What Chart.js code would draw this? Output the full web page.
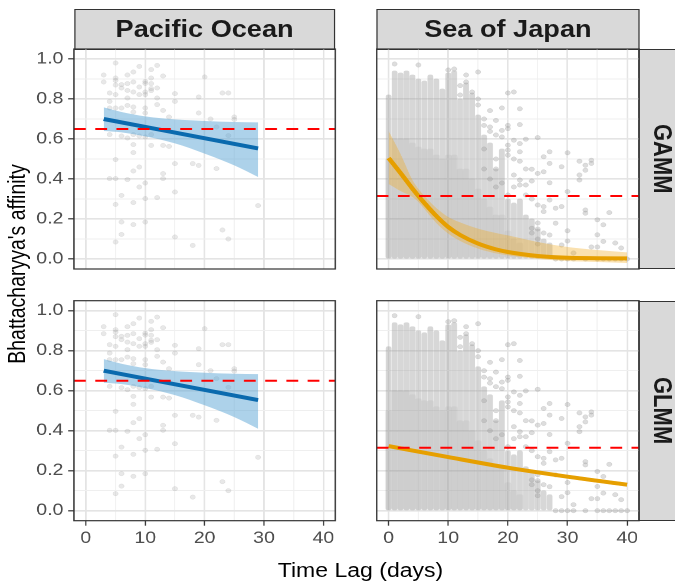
<!DOCTYPE html>
<html>
<head>
<meta charset="utf-8">
<script src="https://cdn.jsdelivr.net/npm/chart.js@4.4.1/dist/chart.umd.min.js"></script>
<style>
  html, body { margin: 0; padding: 0; background: #fff; }
  body { width: 675px; height: 584px; overflow: hidden; position: relative; }
  /* the reference is stretched sideways, so the whole figure is drawn narrow and scaled */
  #wrap { position: absolute; left: 0; top: 0; width: 572px; height: 584px;
          transform: scaleX(1.18); transform-origin: 0 0;
          font-family: "Liberation Sans", Arial, Helvetica, sans-serif; }
  canvas { position: absolute; }
  .strip { position: absolute; box-sizing: border-box; background: #d9d9d9; border: 1px solid #333;
           color: #1a1a1a; font-weight: bold; font-size: 23px;
           display: flex; align-items: center; justify-content: center; }
  .strip.side { writing-mode: vertical-rl; font-size: 22px; }
  .title { position: absolute; color: #000; font-size: 19.5px; white-space: nowrap;
           transform: translate(-50%, -50%); }
</style>
</head>
<body>
<div id="wrap">
  <div class="strip" style="left:62.7px; top:9px; width:221.4px; height:41px;">Pacific Ocean</div>
  <div class="strip" style="left:319.2px; top:9px; width:222.4px; height:41px;">Sea of Japan</div>
  <div class="strip side" style="left:541.1px; top:49px; width:41px; height:220px;">GAMM</div>
  <div class="strip side" style="left:541.1px; top:300.7px; width:41px; height:220px;">GLMM</div>
  <div class="title" style="left:15.3px; top:264px; transform: translate(-50%, -50%) rotate(-90deg);">Bhattacharyya's affinity</div>
  <div class="title" style="left:305.5px; top:570px;">Time Lag (days)</div>
</div>
<script>
const FONT_FAMILY = '"Liberation Sans", Arial, Helvetica, sans-serif';

// 1. Données
// Pacific Ocean : points bruts (mêmes points dans les deux lignes)
const pacDays = [3, 4, 5, 6, 7, 8, 9, 10, 11, 12, 13, 14, 15, 18, 19, 20, 21, 22, 23, 24, 25, 29];
const pacAffinity = [
  [0.92, 0.885],
  [0.83, 0.788, 0.755, 0.622, 0.402],
  [0.98, 0.905, 0.893, 0.87, 0.822, 0.755, 0.497, 0.402, 0.273, 0.085],
  [0.872, 0.855, 0.755, 0.615, 0.318, 0.185, 0.123],
  [0.92, 0.877, 0.843, 0.805, 0.768, 0.605, 0.397],
  [0.935, 0.885, 0.835, 0.76, 0.735, 0.622, 0.572, 0.532, 0.44, 0.282, 0.172],
  [0.963, 0.86, 0.822, 0.615, 0.46, 0.36],
  [0.888, 0.878, 0.835, 0.822, 0.755, 0.73, 0.61, 0.38, 0.302, 0.185],
  [0.947, 0.905, 0.877, 0.852, 0.842, 0.622, 0.568],
  [0.968, 0.855, 0.805, 0.772, 0.307],
  [0.915, 0.743, 0.568, 0.427, 0.402],
  [0.71, 0.563],
  [0.827, 0.788, 0.477, 0.335, 0.11],
  [0.477, 0.068],
  [0.81, 0.73, 0.468],
  [0.91],
  [0.70],
  [0.66, 0.452],
  [0.83, 0.145],
  [0.83, 0.617, 0.1],
  [0.71, 0.698],
  [0.267]
];
// Pacific Ocean : ajustement linéaire et intervalle
const pacFitDays = [3, 29];
const pacFit = [0.70, 0.553];
const pacBandDays = [3, 6, 10, 15, 20, 25, 29];
const pacBandUpper = [0.758, 0.735, 0.713, 0.698, 0.69, 0.685, 0.683];
const pacBandLower = [0.64, 0.633, 0.613, 0.578, 0.527, 0.468, 0.41];
const pacThreshold = 0.65;

// Sea of Japan : colonnes denses de points (de 0 jusqu'au sommet)
const seaColDays = [0, 1, 2, 3, 4, 5, 6, 7, 8, 9, 10, 11, 12, 13, 14, 15, 16, 17, 18, 19, 20, 21, 22, 23, 24, 25, 26, 27];
const seaColTop = [0.82, 0.94, 0.93, 0.94, 0.92, 0.90, 0.89, 0.92, 0.90, 0.85, 0.93, 0.94, 0.80, 0.88, 0.83, 0.72,
                   0.62, 0.58, 0.45, 0.55, 0.30, 0.28, 0.30, 0.22, 0.20, 0.15, 0.10, 0.08];
const seaSolidDays = [0, 1, 2, 3, 4, 5, 6, 7, 8, 9, 10, 11, 12, 13, 14, 15, 16, 17, 18, 19, 20, 21, 22];
const seaSolidTop = [0.5, 0.6, 0.6, 0.6, 0.58, 0.56, 0.55, 0.55, 0.52, 0.5, 0.52, 0.52, 0.45, 0.45, 0.4, 0.35,
                     0.3, 0.26, 0.22, 0.22, 0.14, 0.1, 0.08];
// Sea of Japan : points isolés
const seaPtDays = [1, 5, 10, 11, 12, 13, 14, 15, 16, 17, 18, 19, 20, 21, 22, 23, 24, 25, 26, 27,
                   28, 29, 30, 31, 32, 33, 34, 35, 36, 37, 38, 39, 40];
const seaPtAffinity = [
  [0.975], [0.97], [0.945], [0.95], [0.867, 0.82], [0.92, 0.885], [0.835], [0.935, 0.80, 0.77],
  [0.70, 0.668, 0.55, 0.45],
  [0.742, 0.66, 0.638, 0.40],
  [0.693, 0.62, 0.50, 0.45, 0.36],
  [0.755, 0.643, 0.61, 0.38],
  [0.83, 0.668, 0.652, 0.569, 0.544, 0.519, 0.32],
  [0.835, 0.594, 0.50, 0.42, 0.36],
  [0.751, 0.672, 0.577, 0.536, 0.489, 0.395, 0.37],
  [0.599, 0.45, 0.37, 0.32],
  [0.449, 0.39, 0.30, 0.154, 0.13],
  [0.607, 0.428, 0.27, 0.18, 0.15, 0.1, 0.075],
  [0.511, 0.436, 0.262, 0.237, 0.13],
  [0.536, 0.478, 0.381, 0.295, 0.12],
  [0.254, 0.179, 0],
  [0.461, 0.262, 0.07, 0],
  [0.531, 0.337, 0.141, 0.09, 0],
  [0.03, 0],
  [0.489, 0.42, 0.395],
  [0.469, 0.444, 0.245, 0.229, 0],
  [0.494, 0.478, 0.06],
  [0.196, 0.121, 0.06, 0],
  [0.171, 0.088, 0],
  [0.232, 0],
  [0.08, 0],
  [0.055, 0],
  [0]
];
// Sea of Japan : GAMM
const seaGammDays = [0, 2, 4, 5, 6, 8, 10, 12, 15, 18, 20, 25, 30, 35, 40];
const seaGammFit = [0.505, 0.43, 0.352, 0.315, 0.28, 0.215, 0.16, 0.12, 0.077, 0.048, 0.035, 0.015, 0.006, 0.004, 0.003];
const seaGammUpper = [0.64, 0.525, 0.395, 0.35, 0.315, 0.255, 0.21, 0.183, 0.152, 0.13, 0.118, 0.085, 0.06, 0.045, 0.033];
const seaGammLower = [0.375, 0.34, 0.31, 0.285, 0.25, 0.18, 0.127, 0.09, 0.052, 0.028, 0.018, 0.0, -0.01, -0.015, -0.02];
// Sea of Japan : GLMM
const seaGlmmDays = [0, 10, 20, 30, 40];
const seaGlmmFit = [0.323, 0.268, 0.215, 0.17, 0.13];
const seaGlmmUpper = [0.333, 0.276, 0.223, 0.179, 0.14];
const seaGlmmLower = [0.313, 0.26, 0.207, 0.161, 0.12];
const seaThreshold = 0.315;

// axes partagés
const xRange = [-2, 42];
const yRange = [-0.05, 1.05];
const xTicks = [0, 5, 10, 15, 20, 25, 30, 35, 40];
const yTicks = [0, 0.1, 0.2, 0.3, 0.4, 0.5, 0.6, 0.7, 0.8, 0.9, 1.0];

// 2. Petites fonctions utilitaires
function pairs(xs, ys) {
  return xs.map((x, i) => ({ x: x, y: ys[i] }));
}
function flatten(days, valsByDay) {
  const out = [];
  days.forEach((d, i) => valsByDay[i].forEach(v => out.push({ x: d, y: v })));
  return out;
}

function scatterSet(data, color) {
  return { type: 'scatter', data: data, pointRadius: 2.2, pointBackgroundColor: color,
           pointBorderColor: color, pointBorderWidth: 0.5, order: 5 };
}
function columnSet(days, tops, color, thickness, order) {
  return { type: 'bar', data: days.map((d, i) => ({ x: d, y: [0, tops[i]] })), backgroundColor: color,
           borderWidth: 0, borderRadius: 2, borderSkipped: false, barThickness: thickness,
           grouped: false, order: order };
}
function bandSets(xs, up, lo, color) {
  return [
    { type: 'line', data: pairs(xs, up), borderColor: 'transparent', borderWidth: 0, pointRadius: 0,
      fill: '+1', backgroundColor: color, cubicInterpolationMode: 'monotone', showLine: true, order: 3 },
    { type: 'line', data: pairs(xs, lo), borderColor: 'transparent', borderWidth: 0, pointRadius: 0,
      fill: false, cubicInterpolationMode: 'monotone', showLine: true, order: 3 }
  ];
}
function fitSet(xs, ys, color) {
  return { type: 'line', data: pairs(xs, ys), borderColor: color, borderWidth: 4, pointRadius: 0,
           fill: false, cubicInterpolationMode: 'monotone', showLine: true, order: 2 };
}
function thresholdSet(value) {
  return { type: 'line', data: pairs(xRange, [value, value]), borderColor: '#ff0000', borderWidth: 2,
           borderDash: [10, 8], pointRadius: 0, fill: false, showLine: true, order: 1 };
}

// bordure du panneau (comme ggplot)
const panelBorder = {
  id: 'panelBorder',
  afterDraw(chart) {
    const a = chart.chartArea, c = chart.ctx;
    c.save();
    c.strokeStyle = '#333333';
    c.lineWidth = 1.2;
    c.strokeRect(a.left, a.top, a.right - a.left, a.bottom - a.top);
    c.restore();
  }
};

const isMajorX = c => c.tick && Math.round(c.tick.value) % 10 === 0;
const isMajorY = c => c.tick && Math.round(c.tick.value * 10) % 2 === 0;

// 3. Un graphique par panneau
function drawPanel(rect, area, showX, showY, datasets) {
  const canvas = document.createElement('canvas');
  canvas.style.left = rect.left + 'px';
  canvas.style.top = rect.top + 'px';
  canvas.width = rect.w;
  canvas.height = rect.h;
  canvas.style.width = rect.w + 'px';
  canvas.style.height = rect.h + 'px';
  document.getElementById('wrap').appendChild(canvas);

  const yw = area.left - rect.left;
  const xh = rect.top + rect.h - area.bottom;
  const tickFont = { family: FONT_FAMILY, size: 16.5 };

  new Chart(canvas, {
    type: 'scatter',
    data: { datasets: datasets },
    options: {
      responsive: false,
      animation: false,
      devicePixelRatio: 2,
      events: [],
      layout: { padding: { top: area.top - rect.top, right: rect.left + rect.w - area.right, left: 0, bottom: 0 } },
      plugins: { legend: { display: false }, tooltip: { enabled: false } },
      scales: {
        x: {
          type: 'linear', min: xRange[0], max: xRange[1], bounds: 'data', offset: false,
          border: { display: false },
          grid: {
            offset: false,
            color: c => isMajorX(c) ? '#e4e4e4' : '#efefef',
            lineWidth: c => isMajorX(c) ? 1.4 : 0.8,
            drawTicks: showX, tickLength: 5, tickWidth: 1,
            tickColor: c => isMajorX(c) ? '#333333' : 'rgba(0,0,0,0)'
          },
          ticks: {
            display: showX, autoSkip: false, maxRotation: 0,
            padding: 3, color: '#4d4d4d', font: tickFont,
            callback: v => (Math.round(v) % 10 === 0 ? String(v) : '')
          },
          afterBuildTicks: s => { s.ticks = xTicks.map(v => ({ value: v })); },
          afterFit: s => { s.height = xh; }
        },
        y: {
          type: 'linear', min: yRange[0], max: yRange[1], bounds: 'data',
          border: { display: false },
          grid: {
            color: c => isMajorY(c) ? '#e4e4e4' : '#efefef',
            lineWidth: c => isMajorY(c) ? 1.6 : 0.9,
            drawTicks: showY, tickLength: 5, tickWidth: 1.2,
            tickColor: c => isMajorY(c) ? '#333333' : 'rgba(0,0,0,0)'
          },
          ticks: {
            display: showY, autoSkip: false,
            padding: 4, color: '#4d4d4d', font: tickFont,
            callback: v => (Math.round(v * 10) % 2 === 0 ? v.toFixed(1) : '')
          },
          afterBuildTicks: s => { s.ticks = yTicks.map(v => ({ value: v })); },
          afterFit: s => { s.width = yw; }
        }
      }
    },
    plugins: [panelBorder]
  });
}

// 4. Construction des quatre panneaux
const pacPoints = flatten(pacDays, pacAffinity);
const seaPoints = flatten(seaPtDays, seaPtAffinity);

function pacificSets() {
  return [
    thresholdSet(pacThreshold),
    fitSet(pacFitDays, pacFit, '#0a6aae'),
    ...bandSets(pacBandDays, pacBandUpper, pacBandLower, 'rgba(92,165,214,0.5)'),
    scatterSet(pacPoints, 'rgba(150,150,150,0.22)')
  ];
}
function seaSets(fitX, fit, up, lo) {
  return [
    thresholdSet(seaThreshold),
    fitSet(fitX, fit, '#e69f00'),
    ...bandSets(fitX, up, lo, 'rgba(240,170,30,0.35)'),
    scatterSet(seaPoints, 'rgba(150,150,150,0.32)'),
    columnSet(seaColDays, seaColTop, 'rgba(150,150,150,0.38)', 4.2, 6),
    columnSet(seaSolidDays, seaSolidTop, 'rgba(150,150,150,0.13)', 5.2, 7)
  ];
}

const row1 = { top: 49, bottom: 269 };
const row2 = { top: 300.7, bottom: 520.7 };
const colPac = { left: 62.7, right: 284.1 };
const colSea = { left: 319.2, right: 541.6 };

drawPanel({ left: 0, top: 30, w: 300, h: 262 }, { left: colPac.left, right: colPac.right, top: row1.top, bottom: row1.bottom },
          false, true, pacificSets());
drawPanel({ left: 300, top: 30, w: 260, h: 262 }, { left: colSea.left, right: colSea.right, top: row1.top, bottom: row1.bottom },
          false, false, seaSets(seaGammDays, seaGammFit, seaGammUpper, seaGammLower));
drawPanel({ left: 0, top: 282, w: 300, h: 292 }, { left: colPac.left, right: colPac.right, top: row2.top, bottom: row2.bottom },
          true, true, pacificSets());
drawPanel({ left: 300, top: 282, w: 260, h: 292 }, { left: colSea.left, right: colSea.right, top: row2.top, bottom: row2.bottom },
          true, false, seaSets(seaGlmmDays, seaGlmmFit, seaGlmmUpper, seaGlmmLower));
</script>
</body>
</html>
